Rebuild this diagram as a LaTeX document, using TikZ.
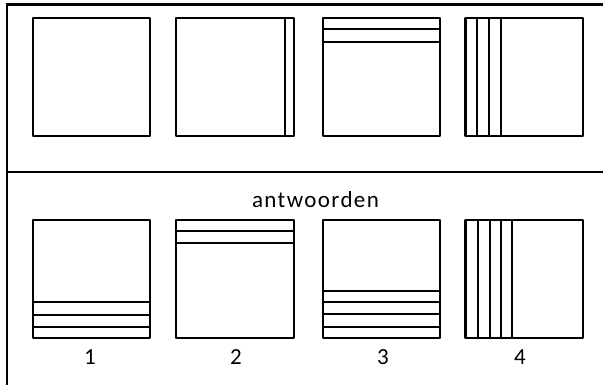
\documentclass[tikz,border=0pt]{standalone}
\usepackage{fontspec}
\setmainfont{Carlito}
\begin{document}
\begin{tikzpicture}[x=1pt,y=-1pt,
  frame/.style={line width=2.4pt},
  sq/.style={draw,line width=2.2pt,line join=round,minimum width=117.5pt,minimum height=118pt,inner sep=0pt},
  strip/.style={line width=2pt},
  lbl/.style={font=\fontsize{23}{25}\selectfont\addfontfeature{LetterSpace=6},inner sep=0pt}]
\useasboundingbox (0,0) rectangle (603,385);
% frame
\coordinate (tl) at (7,4.5);
\coordinate (tr) at (603,4.5);
\coordinate (bl) at (7,385);
\coordinate (ml) at (7,172);
\coordinate (mr) at (603,172);
\draw[frame] (tr) -- (tl) -- (bl);
\draw[frame] (ml) -- (mr);
% top row
\node[sq] (t1) at (91.5,77) {};
\node[sq] (t2) at (235,77) {};
\node[sq] (t3) at (381.5,77) {};
\node[sq] (t4) at (524.3,77) {};
\draw[strip] ([xshift=-10pt]t2.north east) -- ([xshift=-10pt]t2.south east);
\foreach \d in {12.5,25}{
  \draw[strip] ([yshift=-\d]t3.north west) -- ([yshift=-\d]t3.north east);
}
\foreach \d in {13,25,37}{
  \draw[strip] ([xshift=\d]t4.north west) -- ([xshift=\d]t4.south west);
}
% bottom
\node[lbl] (ans) at (315.5,200) {antwoorden};
\node[sq] (b1) at (91.5,279) {};
\node[sq] (b2) at (235,279) {};
\node[sq] (b3) at (381.5,279) {};
\node[sq] (b4) at (524.3,279) {};
\foreach \d in {12.3,24.6,37}{
  \draw[strip] ([yshift=\d]b1.south west) -- ([yshift=\d]b1.south east);
}
\foreach \d in {12.5,24}{
  \draw[strip] ([yshift=-\d]b2.north west) -- ([yshift=-\d]b2.north east);
}
\foreach \d in {12.5,24.7,36.7,48.5}{
  \draw[strip] ([yshift=\d]b3.south west) -- ([yshift=\d]b3.south east);
}
\foreach \d in {14,25.3,37,47.3}{
  \draw[strip] ([xshift=\d]b4.north west) -- ([xshift=\d]b4.south west);
}
\node[lbl] (n1) at (90,357) {1};
\node[lbl] (n2) at (236,357) {2};
\node[lbl] (n3) at (383,357) {3};
\node[lbl] (n4) at (520,357) {4};
\end{tikzpicture}
\end{document}
